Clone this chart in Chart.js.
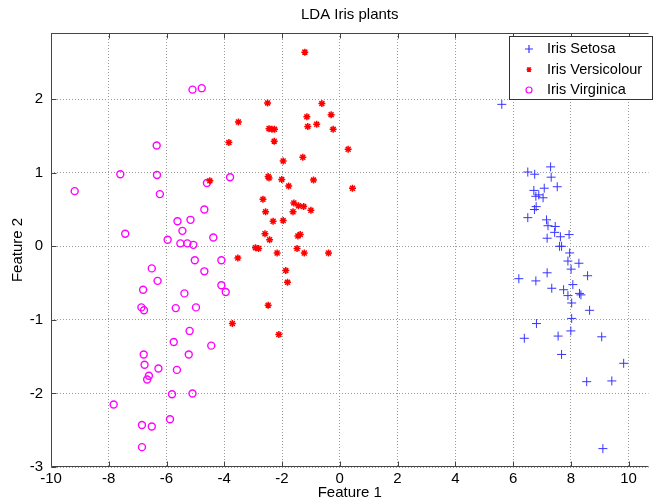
<!DOCTYPE html>
<html>
<head>
<meta charset="utf-8">
<title>LDA Iris plants</title>
<script src="https://cdn.jsdelivr.net/npm/chart.js@4.4.0/dist/chart.umd.min.js"></script>
<style>
  html, body { margin: 0; padding: 0; background: #fff; }
  #wrap { width: 654px; height: 504px; }
</style>
</head>
<body>
<div id="wrap"><canvas id="lda-chart" width="654" height="504"></canvas></div>
<script>
// Tick labels
const xTicks = [-10, -8, -6, -4, -2, 0, 2, 4, 6, 8, 10];
const yTicks = [-3, -2, -1, 0, 1, 2];

// Iris Setosa (blue +)
const setosaX = [5.61, 7.30, 6.51, 6.75, 7.32, 7.53, 7.08, 6.72, 6.79, 6.89, 7.04, 6.80, 6.74, 6.51, 7.16, 7.21, 7.46, 7.44, 7.94, 7.18, 7.64, 7.61, 7.68, 7.96, 7.90, 8.28, 8.01, 7.18, 8.58, 6.20, 6.79, 8.07, 7.34, 7.75, 7.90, 8.30, 8.35, 8.03, 8.65, 8.03, 6.81, 8.00, 6.39, 7.56, 9.07, 7.68, 9.83, 8.55, 9.42, 9.11];
const setosaY = [1.93, 1.08, 1.01, 0.98, 0.94, 0.81, 0.79, 0.76, 0.68, 0.70, 0.66, 0.54, 0.50, 0.39, 0.36, 0.28, 0.27, 0.19, 0.16, 0.11, 0.13, 0.00, 0.00, -0.09, -0.20, -0.23, -0.31, -0.36, -0.40, -0.44, -0.47, -0.52, -0.57, -0.59, -0.67, -0.64, -0.66, -0.77, -0.87, -0.98, -1.05, -1.15, -1.25, -1.22, -1.23, -1.47, -1.59, -1.84, -1.83, -2.75];

// Iris Versicolour (red *)
const versicolourX = [-1.21, -2.50, -0.62, -0.30, -3.51, -1.14, -1.11, -0.80, -0.23, -2.45, -2.35, -2.26, -3.84, -2.27, 0.29, -1.28, -1.96, -2.48, -2.45, -2.01, -0.91, -1.77, 0.44, -4.50, -2.66, -1.59, -1.43, -1.25, -2.57, -1.62, -1.00, -2.31, -1.96, -2.59, -2.43, -1.45, -1.37, -2.92, -2.81, -1.48, -2.17, -1.23, -0.39, -3.53, -1.87, -1.81, -2.48, -3.72, -2.11];
const versicolourY = [2.64, 1.95, 1.94, 1.79, 1.69, 1.76, 1.63, 1.66, 1.59, 1.60, 1.59, 1.59, 1.41, 1.43, 1.32, 1.21, 1.16, 0.95, 0.93, 0.91, 0.90, 0.82, 0.79, 0.89, 0.64, 0.59, 0.55, 0.54, 0.47, 0.47, 0.49, 0.34, 0.35, 0.17, 0.09, 0.14, 0.16, -0.02, -0.03, -0.03, -0.09, -0.09, -0.09, -0.16, -0.33, -0.49, -0.80, -1.05, -1.20];

// Iris Virginica (magenta o)
const virginicaX = [-5.10, -4.78, -6.34, -7.60, -6.33, -9.18, -6.23, -3.80, -4.60, -4.69, -5.62, -5.17, -5.45, -7.43, -4.38, -5.96, -5.52, -5.28, -5.07, -6.51, -5.02, -4.10, -4.69, -6.31, -6.81, -5.38, -4.10, -3.95, -6.87, -6.78, -5.68, -4.98, -5.20, -5.75, -4.45, -5.23, -6.79, -6.76, -6.28, -5.64, -6.61, -6.67, -5.81, -5.10, -7.83, -5.88, -6.85, -6.51, -6.85];
const virginicaY = [2.13, 2.15, 1.37, 0.98, 0.97, 0.75, 0.71, 0.94, 0.86, 0.50, 0.34, 0.36, 0.21, 0.17, 0.12, 0.09, 0.04, 0.04, 0.02, -0.30, -0.19, -0.19, -0.34, -0.47, -0.59, -0.64, -0.53, -0.62, -0.83, -0.87, -0.84, -0.83, -1.15, -1.30, -1.35, -1.47, -1.47, -1.61, -1.66, -1.68, -1.76, -1.81, -2.01, -2.00, -2.15, -2.35, -2.43, -2.45, -2.73];

const FONT = 'Liberation Sans, Arial, Helvetica, sans-serif';
const toPoints = (xs, ys) => xs.map((x, i) => ({ x: x, y: ys[i] }));

// Axis lines, inward ticks and the boxed legend, MATLAB style.
// The right side of the axes is cut off by the picture edge.
const framePlugin = {
    id: 'frame',
    afterDraw(chart) {
        const { ctx, chartArea: a, scales: { x, y } } = chart;
        ctx.save();
        ctx.setLineDash([]);
        ctx.strokeStyle = '#444';
        ctx.lineWidth = 1;
        const L = a.left + 0.5, T = a.top + 0.5, B = a.bottom - 0.5;
        ctx.beginPath();
        ctx.moveTo(a.right, T); ctx.lineTo(L, T); ctx.lineTo(L, B); ctx.lineTo(a.right, B);
        xTicks.forEach(v => {
            const px = Math.round(x.getPixelForValue(v)) + 0.5;
            ctx.moveTo(px, B); ctx.lineTo(px, B - 5);
            ctx.moveTo(px, T); ctx.lineTo(px, T + 5);
        });
        yTicks.forEach(v => {
            const py = Math.round(y.getPixelForValue(v)) + 0.5;
            ctx.moveTo(L, py); ctx.lineTo(L + 5, py);
        });
        ctx.stroke();

        // Legend
        const lx = 509.5, ly = 36.5, lw = 143, lh = 63;
        ctx.fillStyle = '#fff';
        ctx.fillRect(lx, ly, lw, lh);
        ctx.strokeStyle = '#333';
        ctx.strokeRect(lx, ly, lw, lh);
        ctx.font = '14.5px ' + FONT;
        ctx.textBaseline = 'middle';
        ctx.textAlign = 'left';
        chart.data.datasets.forEach((ds, i) => {
            const cy = 49 + i * 20.5;
            const cx = 529;
            ctx.strokeStyle = ds.borderColor;
            ctx.lineWidth = 1.2;
            ctx.beginPath();
            if (ds.pointStyle === 'cross') {
                ctx.moveTo(cx - 4, cy); ctx.lineTo(cx + 4, cy);
                ctx.moveTo(cx, cy - 4); ctx.lineTo(cx, cy + 4);
            } else if (ds.pointStyle === 'star') {
                ctx.moveTo(cx - 2.5, cy); ctx.lineTo(cx + 2.5, cy);
                ctx.moveTo(cx, cy - 2.5); ctx.lineTo(cx, cy + 2.5);
                ctx.moveTo(cx - 2, cy - 2); ctx.lineTo(cx + 2, cy + 2);
                ctx.moveTo(cx - 2, cy + 2); ctx.lineTo(cx + 2, cy - 2);
            } else {
                ctx.arc(cx, cy, 3, 0, Math.PI * 2);
            }
            ctx.stroke();
            ctx.fillStyle = '#000';
            ctx.fillText(ds.label, 547, cy);
        });
        ctx.restore();
    }
};

new Chart(document.getElementById('lda-chart'), {
    type: 'scatter',
    data: {
        datasets: [{
            label: 'Iris Setosa',
            data: toPoints(setosaX, setosaY),
            pointStyle: 'cross',
            pointRadius: 4.5,
            borderColor: '#3535ff',
            backgroundColor: '#3535ff',
            borderWidth: 1
        }, {
            label: 'Iris Versicolour',
            data: toPoints(versicolourX, versicolourY),
            pointStyle: 'star',
            pointRadius: 3.5,
            borderColor: '#ff0000',
            backgroundColor: '#ff0000',
            borderWidth: 1.5
        }, {
            label: 'Iris Virginica',
            data: toPoints(virginicaX, virginicaY),
            pointStyle: 'circle',
            pointRadius: 3.5,
            borderColor: '#ff00ff',
            backgroundColor: 'rgba(0,0,0,0)',
            borderWidth: 1.4
        }]
    },
    options: {
        responsive: false,
        animation: false,
        layout: { padding: { left: 0, right: 0, top: 0, bottom: 0 } },
        plugins: {
            legend: { display: false },
            tooltip: { enabled: false },
            title: {
                display: true,
                text: 'LDA Iris plants',
                fullSize: false,
                color: '#000',
                font: { family: FONT, size: 15, weight: 'normal' },
                padding: { top: 6, bottom: 9 }
            }
        },
        scales: {
            x: {
                type: 'linear',
                min: -10,
                max: 10.69,
                afterBuildTicks: s => { s.ticks = xTicks.map(v => ({ value: v })); },
                afterFit: s => { s.height = 37; },
                ticks: {
                    color: '#000',
                    padding: 3,
                    maxRotation: 0,
                    font: { family: FONT, size: 15 },
                    callback: v => String(v)
                },
                grid: { color: '#9a9a9a', lineWidth: 1, drawTicks: false },
                border: { display: false, dash: [1, 2] },
                title: {
                    display: true,
                    text: 'Feature 1',
                    color: '#000',
                    font: { family: FONT, size: 15 },
                    padding: { top: 0, bottom: 2 }
                }
            },
            y: {
                type: 'linear',
                min: -3,
                max: 2.9,
                afterBuildTicks: s => { s.ticks = yTicks.map(v => ({ value: v })); },
                afterFit: s => { s.width = 51; },
                ticks: {
                    color: '#000',
                    padding: 8,
                    font: { family: FONT, size: 15 },
                    callback: v => String(v)
                },
                grid: { color: '#9a9a9a', lineWidth: 1, drawTicks: false },
                border: { display: false, dash: [1, 2] },
                title: {
                    display: true,
                    text: 'Feature 2',
                    color: '#000',
                    font: { family: FONT, size: 15 },
                    padding: { top: 9, bottom: 0 }
                }
            }
        }
    },
    plugins: [framePlugin]
});
</script>
</body>
</html>
